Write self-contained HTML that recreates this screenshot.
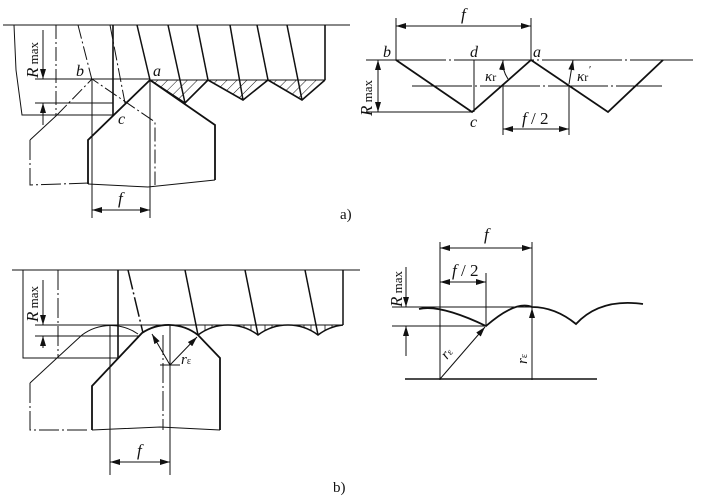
<!DOCTYPE html>
<html><head><meta charset="utf-8"><style>
html,body{margin:0;padding:0;background:#fff;}
svg{display:block;}
text{font-family:"Liberation Serif",serif;fill:#111;}
.i{font-style:italic;}
</style></head><body>
<svg width="702" height="500" viewBox="0 0 702 500" xmlns="http://www.w3.org/2000/svg">
<defs>
<marker id="ar" viewBox="0 0 10 6" refX="10" refY="3" markerWidth="10" markerHeight="6" orient="auto-start-reverse" markerUnits="userSpaceOnUse"><path d="M0,0 L10,3 L0,6 z" fill="#111"/></marker>
<pattern id="h" width="7" height="7" patternUnits="userSpaceOnUse" patternTransform="rotate(45)"><line x1="0" y1="0" x2="0" y2="7" stroke="#111" stroke-width="1"/></pattern>
</defs>
<g stroke="#111" fill="none" stroke-width="1">
<!-- ===== a) left ===== -->
<line x1="3" y1="25" x2="350" y2="25"/>
<path d="M14,25 L16,70 L22,115 L113,115"/>
<line x1="113" y1="25" x2="113" y2="115" stroke-width="1.6"/>
<line x1="56" y1="25" x2="56" y2="115" stroke-dasharray="14,3,2,3"/>
<line x1="35" y1="79" x2="150" y2="79"/>
<line x1="35" y1="103" x2="113" y2="103"/>
<line x1="43" y1="30" x2="43" y2="79" marker-end="url(#ar)"/>
<line x1="43" y1="125" x2="43" y2="103" marker-end="url(#ar)"/>
<path d="M150,80 L185,103 L208,80 Z M208,80 L243,100 L268,80 Z M268,80 L302,100 L325,80 Z" fill="url(#h)" stroke="none"/>
<line x1="150" y1="80" x2="325" y2="80"/>
<path d="M150,80 L185,103 L208,80 L243,100 L268,80 L302,100 L325,80" stroke-width="1.6"/>
<line x1="325" y1="25" x2="325" y2="80" stroke-width="1.6"/>
<g stroke-width="1.5">
<line x1="137" y1="25" x2="150" y2="80"/>
<line x1="168" y1="25" x2="185" y2="103"/>
<line x1="197" y1="25" x2="208" y2="80"/>
<line x1="230" y1="25" x2="243" y2="100"/>
<line x1="257" y1="25" x2="268" y2="80"/>
<line x1="287" y1="25" x2="302" y2="100"/>
</g>
<line x1="78" y1="25" x2="92" y2="80" stroke-dasharray="14,3,2,3"/>
<line x1="110" y1="25" x2="125" y2="103" stroke-dasharray="14,3,2,3"/>
<path d="M30,140 L57,115" />
<path d="M57,115 L92,79 L155,122 L155,185" stroke-dasharray="14,3,2,3"/>
<path d="M30,140 L30,185 L90,183" stroke-dasharray="20,3,2,3"/>
<path d="M88,184 L88,140 L150,80 L215,125 L215,180" stroke-width="1.8"/>
<path d="M88,184 L148,187 L215,180"/>
<line x1="92" y1="80" x2="92" y2="218"/>
<line x1="150" y1="80" x2="150" y2="218"/>
<line x1="92" y1="210" x2="150" y2="210" marker-start="url(#ar)" marker-end="url(#ar)"/>

<!-- ===== a) right ===== -->
<line x1="396" y1="18" x2="396" y2="60"/>
<line x1="531" y1="18" x2="531" y2="60"/>
<line x1="396" y1="26" x2="531" y2="26" marker-start="url(#ar)" marker-end="url(#ar)"/>
<line x1="366" y1="60" x2="693" y2="60" stroke-dasharray="80,3,2,3"/>
<line x1="412" y1="86" x2="662" y2="86" stroke-dasharray="60,3,2,3"/>
<path d="M396,60 L472,112 L531,60 L608,112 L663,60" stroke-width="1.8"/>
<line x1="474" y1="60" x2="474" y2="112"/>
<line x1="366" y1="112" x2="472" y2="112"/>
<line x1="378" y1="60" x2="378" y2="112" marker-start="url(#ar)" marker-end="url(#ar)"/>
<path d="M508,79 Q502,70 503,60" marker-end="url(#ar)"/>
<path d="M569,84 Q571,72 573,60" marker-end="url(#ar)"/>
<line x1="503" y1="86" x2="503" y2="135"/>
<line x1="569" y1="86" x2="569" y2="135"/>
<line x1="503" y1="129" x2="569" y2="129" marker-start="url(#ar)" marker-end="url(#ar)"/>

<!-- ===== b) left ===== -->
<line x1="12" y1="270" x2="360" y2="270"/>
<path d="M23,270 L23,358 L118,358"/>
<line x1="118" y1="270" x2="118" y2="358" stroke-width="1.6"/>
<line x1="58" y1="270" x2="58" y2="358" stroke-dasharray="20,3,2,3"/>
<line x1="35" y1="325" x2="343" y2="325"/>
<line x1="35" y1="336" x2="140" y2="336"/>
<line x1="43" y1="280" x2="43" y2="325" marker-end="url(#ar)"/>
<line x1="43" y1="348" x2="43" y2="336" marker-end="url(#ar)"/>
<g stroke-width="1.5">
<line x1="128" y1="270" x2="143" y2="333" stroke-dasharray="20,3,2,3"/>
<line x1="185" y1="270" x2="198" y2="335"/>
<line x1="245" y1="270" x2="258" y2="335"/>
<line x1="305" y1="270" x2="318" y2="335"/>
<line x1="343" y1="270" x2="343" y2="325"/>
</g>
<g stroke-width="0.8">
<line x1="205" y1="325" x2="205" y2="331"/><line x1="212" y1="325" x2="212" y2="328"/><line x1="244" y1="325" x2="244" y2="328"/><line x1="251" y1="325" x2="251" y2="331"/>
<line x1="265" y1="325" x2="265" y2="331"/><line x1="272" y1="325" x2="272" y2="328"/><line x1="304" y1="325" x2="304" y2="328"/><line x1="311" y1="325" x2="311" y2="331"/>
<line x1="325" y1="325" x2="325" y2="330"/><line x1="332" y1="325" x2="332" y2="328"/>
</g>
<path d="M198,335 A50,50 0 0 1 258,335 A50,50 0 0 1 318,335 A50,50 0 0 1 343,325" stroke-width="1.5"/>
<path d="M57,358 L82,335 A48,48 0 0 1 138,334" />
<path d="M30,383 L57,358" />
<path d="M30,383 L30,430 L90,430" stroke-dasharray="20,3,2,3"/>
<path d="M92,430 L92,386 L142,333 A48,48 0 0 1 198,335 L220,358 L220,430" stroke-width="1.8"/>
<path d="M92,430 L160,427 L220,430"/>
<line x1="110" y1="325" x2="110" y2="475"/>
<line x1="170" y1="325" x2="170" y2="475"/>
<line x1="163" y1="335" x2="163" y2="430" stroke-dasharray="20,3,2,3"/>
<line x1="110" y1="462" x2="170" y2="462" marker-start="url(#ar)" marker-end="url(#ar)"/>
<line x1="160" y1="365" x2="180" y2="365"/>
<line x1="170" y1="365" x2="152" y2="334" marker-end="url(#ar)"/>
<line x1="170" y1="365" x2="197" y2="337" marker-end="url(#ar)"/>

<!-- ===== b) right ===== -->
<line x1="440" y1="242" x2="440" y2="380"/>
<line x1="532" y1="242" x2="532" y2="380"/>
<line x1="440" y1="248" x2="532" y2="248" marker-start="url(#ar)" marker-end="url(#ar)"/>
<line x1="486" y1="273" x2="486" y2="326"/>
<line x1="440" y1="282" x2="486" y2="282" marker-start="url(#ar)" marker-end="url(#ar)"/>
<line x1="392" y1="307" x2="532" y2="307"/>
<line x1="392" y1="326" x2="486" y2="326"/>
<line x1="406" y1="267" x2="406" y2="307" marker-end="url(#ar)"/>
<line x1="406" y1="356" x2="406" y2="326" marker-end="url(#ar)"/>
<path d="M419,309 Q440,304 486,326 Q516,300 532,307 Q555,307 576,324 Q600,298 643,304" stroke-width="1.8"/>
<line x1="405" y1="379" x2="597" y2="379" stroke-width="1.6"/>
<line x1="440" y1="379" x2="485" y2="327" marker-end="url(#ar)"/>
<line x1="532" y1="379" x2="532" y2="308" marker-end="url(#ar)"/>
</g>
<text x="38" y="78" font-size="17" transform="rotate(-90 38 78)" class="i">R<tspan font-style="normal" font-size="13"> max</tspan></text>
<text x="76" y="76" font-size="16" class="i">b</text>
<text x="153" y="76" font-size="16" class="i">a</text>
<text x="118" y="124" font-size="16" class="i">c</text>
<text x="118" y="204" font-size="17" class="i">f</text>
<text x="340" y="219" font-size="15">a)</text>
<text x="461" y="20" font-size="17" class="i">f</text>
<text x="383" y="57" font-size="16" class="i">b</text>
<text x="470" y="57" font-size="16" class="i">d</text>
<text x="533" y="57" font-size="16" class="i">a</text>
<text x="470" y="127" font-size="16" class="i">c</text>
<text x="372" y="116" font-size="17" transform="rotate(-90 372 116)" class="i">R<tspan font-style="normal" font-size="13"> max</tspan></text>
<text x="485" y="81" font-size="15" class="i">κ<tspan font-style="normal" font-size="12">r</tspan></text>
<text x="577" y="81" font-size="15" class="i">κ<tspan font-style="normal" font-size="12">r</tspan><tspan font-size="11" dy="-8">′</tspan></text>
<text x="522" y="124" font-size="17" class="i">f<tspan font-style="normal"> / 2</tspan></text>
<text x="38" y="322" font-size="17" transform="rotate(-90 38 322)" class="i">R<tspan font-style="normal" font-size="13"> max</tspan></text>
<text x="181" y="364" font-size="15" class="i">r<tspan font-style="normal" font-size="10">ε</tspan></text>
<text x="137" y="456" font-size="17" class="i">f</text>
<text x="333" y="492" font-size="15">b)</text>
<text x="484" y="240" font-size="17" class="i">f</text>
<text x="452" y="276" font-size="17" class="i">f<tspan font-style="normal"> / 2</tspan></text>
<text x="402" y="307" font-size="17" transform="rotate(-90 402 307)" class="i">R<tspan font-style="normal" font-size="13"> max</tspan></text>
<text x="447" y="360" font-size="15" transform="rotate(-50 447 360)" class="i">r<tspan font-style="normal" font-size="10">ε</tspan></text>
<text x="527" y="364" font-size="15" transform="rotate(-90 527 364)" class="i">r<tspan font-style="normal" font-size="10">ε</tspan></text>
</svg>
</body></html>
